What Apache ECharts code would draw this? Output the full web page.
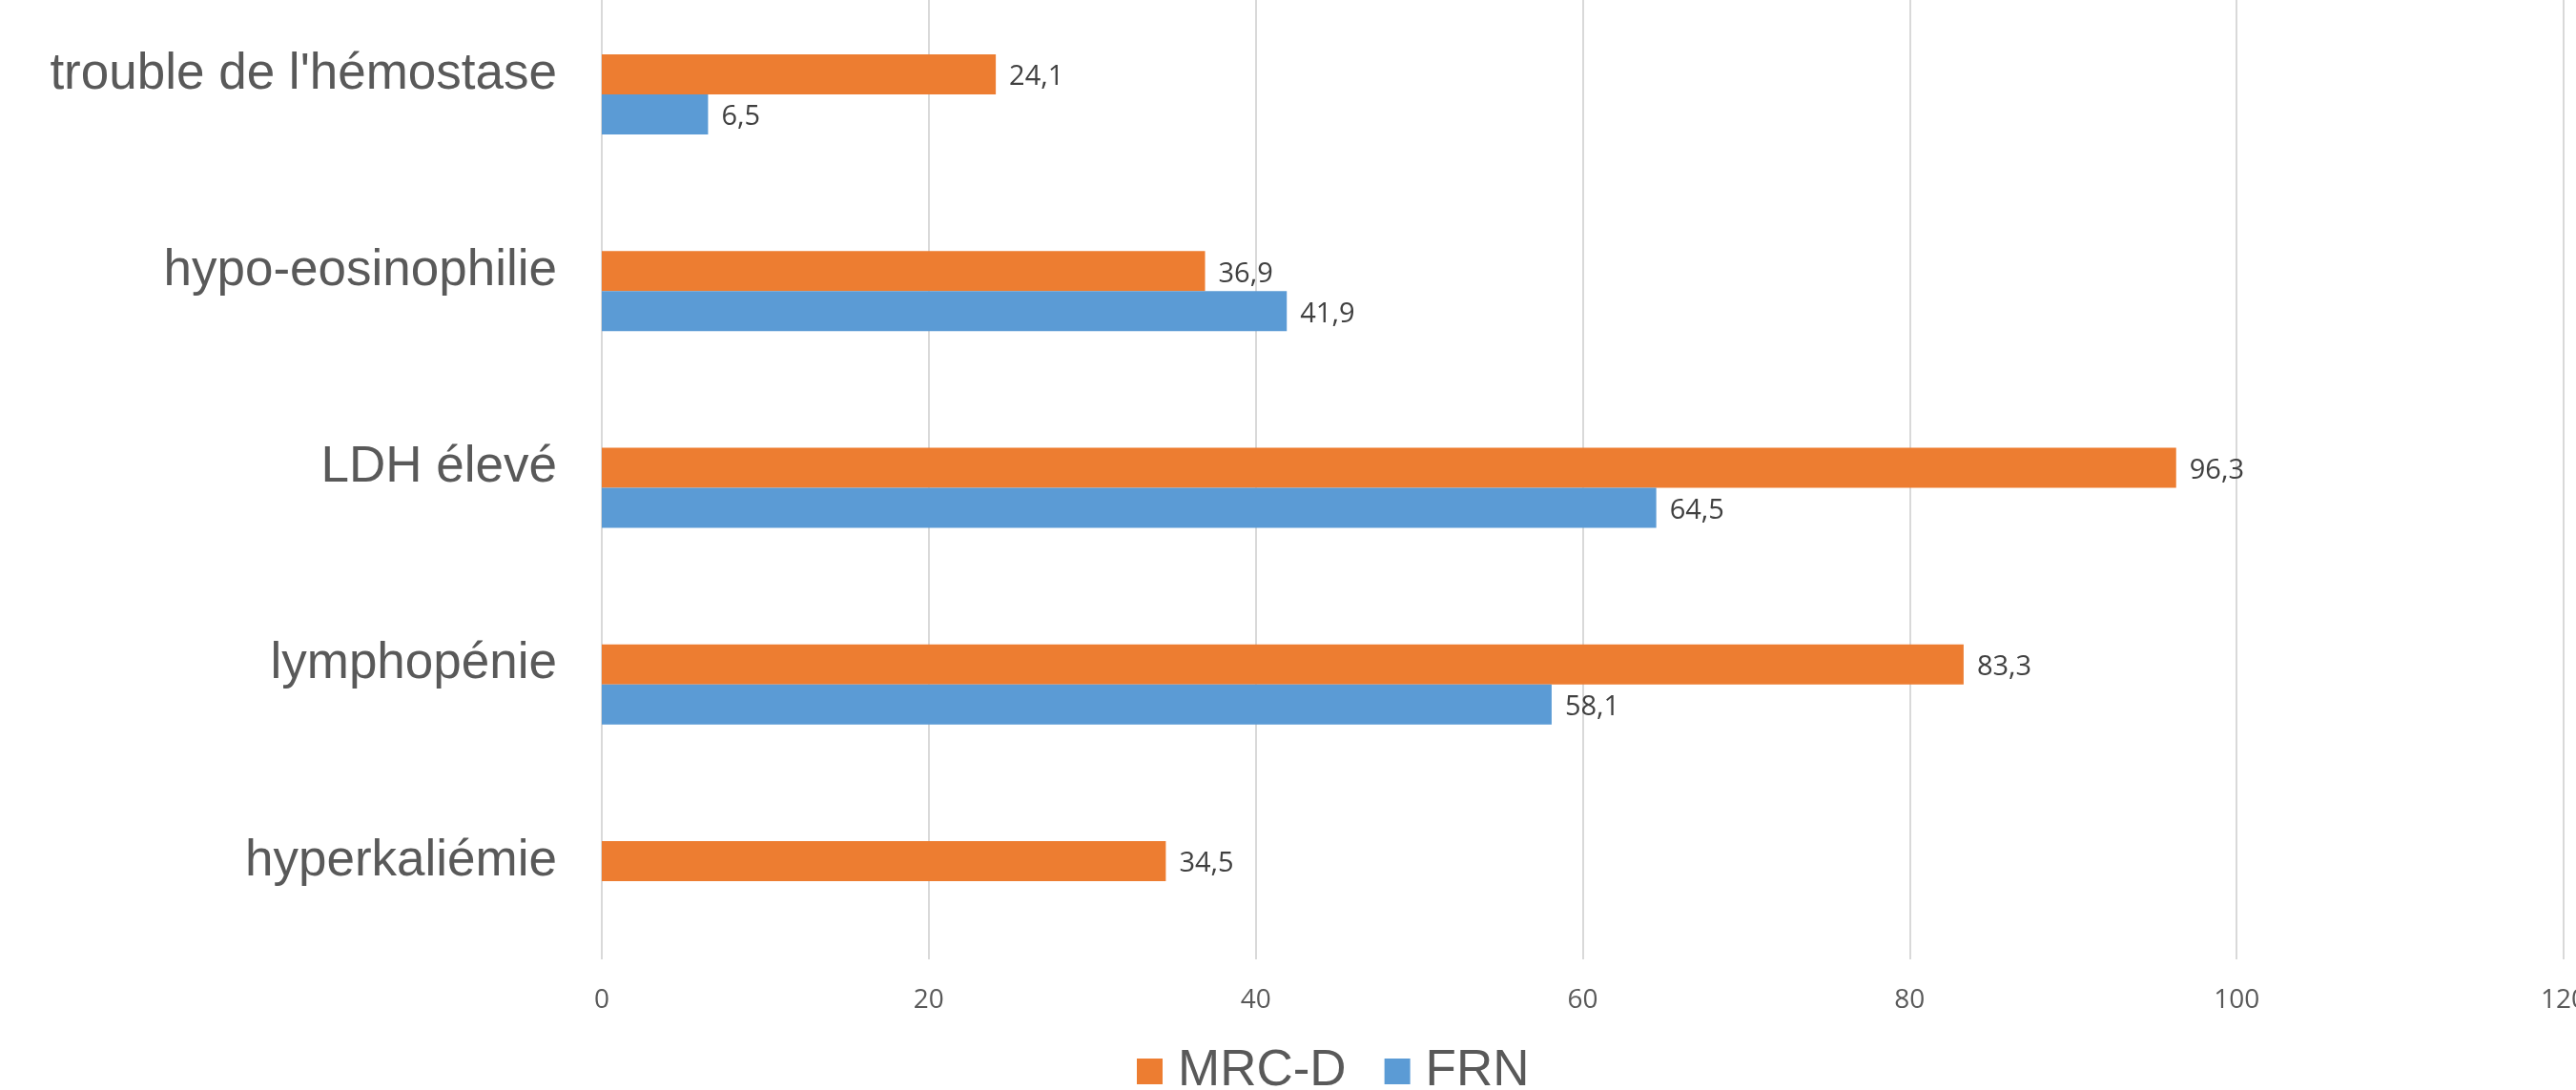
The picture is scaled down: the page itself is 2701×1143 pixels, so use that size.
<!DOCTYPE html>
<html lang="fr">
<head>
    <meta charset="utf-8">
    <title>MRC-D / FRN</title>
    <script src="https://cdn.jsdelivr.net/npm/echarts@6/dist/echarts.min.js"></script>
    <style>
        html, body {
            margin: 0;
            padding: 0;
            background: #ffffff;
        }

        #chart {
            width: 2701px;
            height: 1143px;
        }
    </style>
</head>
<body>
<div id="chart"></div>

<script type="text/javascript">

    // categories, top to bottom
    var categories = ['trouble de l\'hémostase', 'hypo-eosinophilie', 'LDH élevé', 'lymphopénie', 'hyperkaliémie'];
    var mrcValues = [24.1, 36.9, 96.3, 83.3, 34.5];
    var frnValues = [6.5, 41.9, 64.5, 58.1, null];
    var xTicks = [0, 20, 40, 60, 80, 100, 120];

    var myChart = echarts.init(document.getElementById('chart'));

    var valueLabel = {
        show: true,
        position: 'right',
        distance: 14,
        offset: [0, 3],
        fontFamily: 'Open Sans',
        fontSize: 29,
        color: '#404040',
        formatter: function (p) {
            return String(p.value).replace('.', ',');
        }
    };

    var option = {
        animation: false,
        backgroundColor: '#ffffff',
        grid: {
            left: 631,
            right: 13,
            top: -25,
            bottom: 137,
            containLabel: false,
            outerBoundsMode: 'none'
        },
        legend: {
            data: ['MRC-D', 'FRN'],
            left: 1192,
            top: 1097,
            padding: 0,
            icon: 'rect',
            itemWidth: 27,
            itemHeight: 27,
            itemGap: 40,
            textStyle: {
                fontFamily: 'Liberation Sans',
                fontSize: 53,
                lineHeight: 53,
                color: '#595959',
                padding: [0, 0, 0, 11]
            }
        },
        xAxis: {
            type: 'value',
            min: xTicks[0],
            max: xTicks[xTicks.length - 1],
            interval: xTicks[1] - xTicks[0],
            axisLine: {show: false},
            axisTick: {show: false},
            splitLine: {
                show: true,
                lineStyle: {color: '#d9d9d9', width: 2}
            },
            axisLabel: {
                showMaxLabel: true,
                margin: 29,
                fontFamily: 'Open Sans',
                fontSize: 28,
                color: '#595959'
            }
        },
        yAxis: {
            type: 'category',
            inverse: true,
            data: categories,
            axisLine: {show: false},
            axisTick: {show: false},
            axisLabel: {
                margin: 47,
                padding: [7, 0, 0, 0],
                fontFamily: 'Liberation Sans',
                fontSize: 53,
                color: '#595959'
            }
        },
        series: [
            {
                // empty slot, keeps MRC-D centred on the category like the original
                name: 'vide',
                type: 'bar',
                barWidth: 42,
                barGap: '0%',
                data: []
            },
            {
                name: 'MRC-D',
                type: 'bar',
                barWidth: 42,
                barGap: '0%',
                itemStyle: {color: '#ed7d31'},
                label: valueLabel,
                data: mrcValues
            },
            {
                name: 'FRN',
                type: 'bar',
                barWidth: 42,
                barGap: '0%',
                itemStyle: {color: '#5b9bd5'},
                label: valueLabel,
                data: frnValues
            }
        ]
    };

    myChart.setOption(option);
</script>
</body>
</html>
